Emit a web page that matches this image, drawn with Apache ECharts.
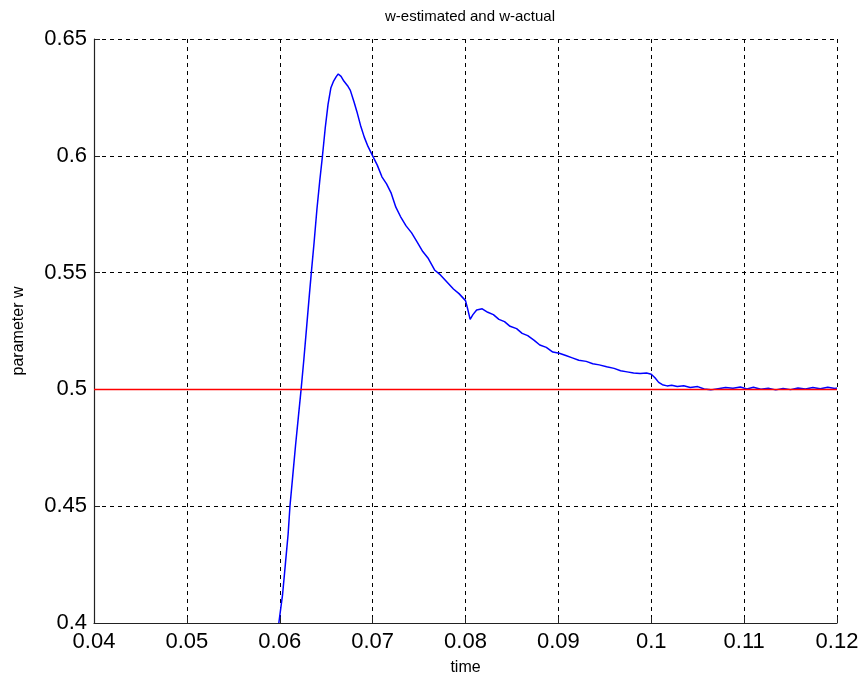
<!DOCTYPE html>
<html>
<head>
<meta charset="utf-8">
<script src="https://cdn.jsdelivr.net/npm/echarts@6/dist/echarts.min.js"></script>
<style>html,body{margin:0;padding:0;background:#fff;}#c{width:861px;height:686px;}</style>
</head>
<body>
<div id="c"></div>
<script>
var titleText = 'w-estimated and w-actual';
var xName = 'time';
var yName = 'parameter w';
var xTicks = [0.04, 0.05, 0.06, 0.07, 0.08, 0.09, 0.1, 0.11, 0.12];
var yTicks = [0.4, 0.45, 0.5, 0.55, 0.6, 0.65];

var estTime = [0.0599,0.0603,0.0606,0.0609,0.0611,0.0614,0.0617,0.0620,0.0623,0.0626,0.0629,0.0632,0.0634,0.0637,0.0640,0.0643,0.0646,0.0649,0.0652,0.0655,0.0658,0.0661,0.0663,0.0666,0.0669,0.0673,0.0676,0.0680,0.0683,0.0687,0.0691,0.0695,0.0700,0.0705,0.0710,0.0715,0.0720,0.0725,0.0730,0.0736,0.0742,0.0748,0.0754,0.0760,0.0767,0.0773,0.0780,0.0787,0.0793,0.0800,0.0802,0.0805,0.0808,0.0812,0.0818,0.0824,0.0830,0.0836,0.0842,0.0848,0.0855,0.0861,0.0867,0.0874,0.0880,0.0887,0.0894,0.0901,0.0908,0.0915,0.0922,0.0930,0.0937,0.0944,0.0952,0.0960,0.0967,0.0974,0.0981,0.0988,0.0995,0.1000,0.1004,0.1008,0.1012,0.1017,0.1022,0.1028,0.1035,0.1042,0.1050,0.1057,0.1064,0.1072,0.1080,0.1088,0.1096,0.1103,0.1110,0.1118,0.1126,0.1134,0.1142,0.1150,0.1158,0.1166,0.1174,0.1182,0.1190,0.1198,0.1200];
var estW = [0.400,0.412,0.425,0.438,0.450,0.463,0.476,0.488,0.500,0.513,0.527,0.541,0.550,0.563,0.577,0.589,0.600,0.612,0.622,0.629,0.632,0.634,0.635,0.634,0.632,0.630,0.628,0.623,0.619,0.613,0.608,0.604,0.600,0.596,0.591,0.588,0.584,0.578,0.574,0.570,0.567,0.563,0.559,0.556,0.551,0.549,0.546,0.543,0.541,0.538,0.535,0.530,0.532,0.534,0.5345,0.533,0.532,0.530,0.529,0.527,0.526,0.524,0.523,0.521,0.519,0.518,0.516,0.5155,0.5145,0.5135,0.5125,0.512,0.511,0.5105,0.5097,0.509,0.508,0.5075,0.507,0.5068,0.507,0.5065,0.505,0.503,0.502,0.5015,0.5018,0.5012,0.5016,0.5008,0.5012,0.5002,0.4998,0.5003,0.5008,0.5005,0.5010,0.5002,0.5009,0.5001,0.5005,0.4998,0.5004,0.4999,0.5006,0.5002,0.5008,0.5003,0.5009,0.5004,0.5006];

var actTime = [0.04, 0.12];
var actW = [0.5, 0.5];

function pairs(xs, ys) { return xs.map(function (x, i) { return [x, ys[i]]; }); }

var font = 'Liberation Sans, Arial, Helvetica, sans-serif';
var chart = echarts.init(document.getElementById('c'), null, {renderer: 'canvas'});
chart.setOption({
  animation: false,
  backgroundColor: '#ffffff',
  title: {
    text: titleText, left: 465, top: 4, textAlign: 'center',
    textStyle: {fontFamily: font, fontSize: 15, fontWeight: 'normal', color: '#000'}
  },
  grid: {left: 94, right: 24, top: 39, bottom: 63, containLabel: false, outerBoundsMode: 'none'},
  xAxis: {
    type: 'value', min: 0.04, max: 0.12, interval: 0.01,
    name: xName, nameLocation: 'middle', nameGap: 37,
    nameTextStyle: {fontFamily: font, fontSize: 16, color: '#000'},
    axisLine: {show: true, onZero: false, lineStyle: {color: '#222', width: 1.2}},
    axisTick: {show: true, inside: true, length: 6, lineStyle: {color: '#222'}},
    axisLabel: {fontFamily: font, fontSize: 22, color: '#000', margin: 8,
      formatter: function (v) { var t = xTicks.filter(function (k) { return Math.abs(k - v) < 1e-9; }); return t.length ? String(t[0]) : ''; }},
    splitLine: {show: true, lineStyle: {color: '#000', type: [4, 4], width: 1}}
  },
  yAxis: {
    type: 'value', min: 0.4, max: 0.65, interval: 0.05,
    name: yName, nameLocation: 'middle', nameGap: 67, nameRotate: 90,
    nameTextStyle: {fontFamily: font, fontSize: 16, color: '#000'},
    axisLine: {show: true, onZero: false, lineStyle: {color: '#222', width: 1.2}},
    axisTick: {show: true, inside: true, length: 6, lineStyle: {color: '#222'}},
    axisLabel: {fontFamily: font, fontSize: 22, color: '#000', margin: 7,
      formatter: function (v) { var t = yTicks.filter(function (k) { return Math.abs(k - v) < 1e-9; }); return t.length ? String(t[0]) : ''; }},
    splitLine: {show: true, lineStyle: {color: '#000', type: [4, 4], width: 1}}
  },
  series: [
    {type: 'line', data: pairs(estTime, estW), showSymbol: false, symbol: 'none',
      lineStyle: {color: '#0000ff', width: 1.5}, clip: true, z: 3},
    {type: 'line', data: pairs(actTime, actW), showSymbol: false, symbol: 'none',
      lineStyle: {color: '#ff0000', width: 1.5}, clip: true, z: 4}
  ]
});
</script>
</body>
</html>
